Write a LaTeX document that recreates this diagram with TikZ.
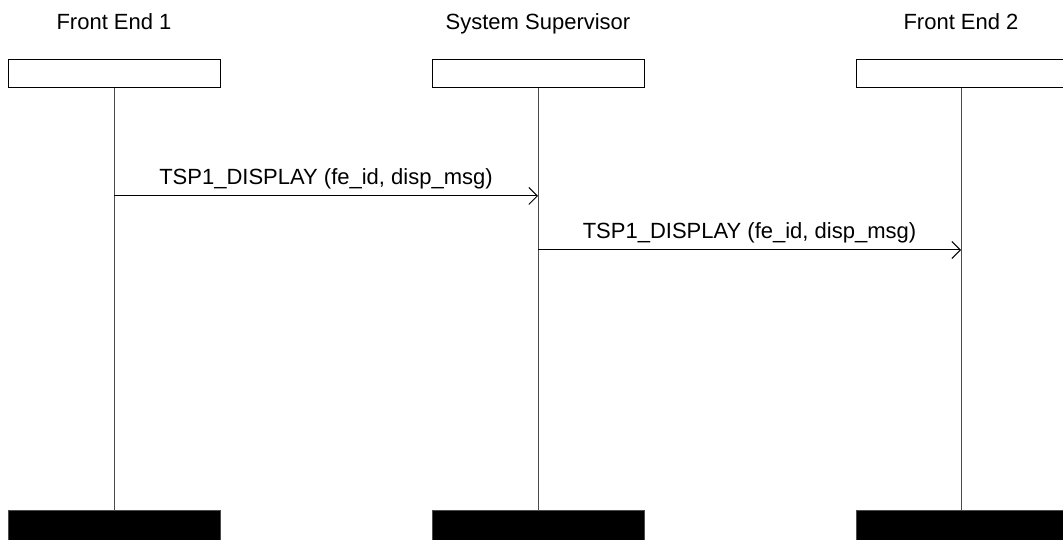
\documentclass[tikz,border=0pt]{standalone}
\usepackage{fontspec}
\setmainfont{Liberation Sans}
\usetikzlibrary{arrows.meta}
\begin{document}
\begin{tikzpicture}[x=1pt,y=1pt,
  every node/.style={font=\fontsize{22}{26}\selectfont},
  title/.style={anchor=base, inner sep=0pt},
  headbox/.style={draw=black, line width=1pt, fill=white, minimum width=212pt, minimum height=28pt, inner sep=0pt},
  endbar/.style={fill=black, draw=black!70, line width=1pt, minimum width=212pt, minimum height=30pt, inner sep=0pt},
  lifeline/.style={draw=black!70, line width=1pt},
  msg/.style={draw=black, line width=1pt, -{Straight Barb[length=8.5pt,width=17pt,line width=1pt]}},
  msglabel/.style={anchor=base, yshift=11pt, inner sep=0pt}]
\useasboundingbox (0,0) rectangle (1063,540);
\node[title] (t1) at (114,510) {Front End 1};
\node[title] (t2) at (538,510) {System Supervisor};
\node[title] (t3) at (961,510) {Front End 2};
\node[headbox] (h1) at (114,466) {};
\node[headbox] (h2) at (538,466) {};
\node[headbox] (h3) at (962,466) {};
\node[endbar] (e1) at (114,14) {};
\node[endbar] (e2) at (538,14) {};
\node[endbar] (e3) at (962,14) {};
\draw[lifeline] (h1.south) -- (e1.north);
\draw[lifeline] (h2.south) -- (e2.north);
\draw[lifeline] (h3.south -| 961,0) -- (e3.north -| 961,0);
\coordinate (m1a) at (114,344);
\coordinate (m1b) at (538,344);
\coordinate (m2a) at (538,290);
\coordinate (m2b) at (961,290);
\draw[msg] (m1a) -- node[msglabel] {TSP1\_DISPLAY (fe\_id, disp\_msg)} (m1b);
\draw[msg] (m2a) -- node[msglabel] {TSP1\_DISPLAY (fe\_id, disp\_msg)} (m2b);
\end{tikzpicture}
\end{document}
